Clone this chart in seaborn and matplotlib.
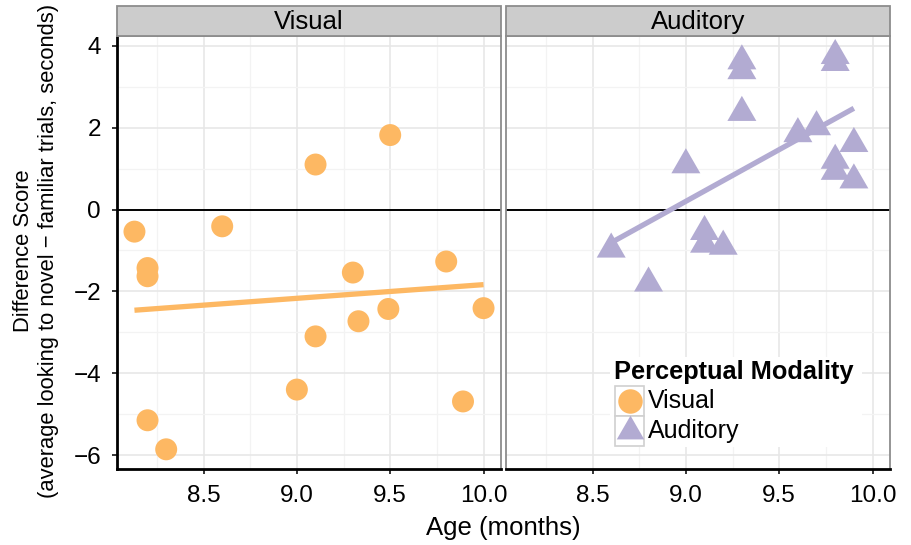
import numpy as np
import pandas as pd
import matplotlib
matplotlib.use("Agg")
import matplotlib.pyplot as plt
import seaborn as sns
from matplotlib.path import Path
from matplotlib.patches import Rectangle

# data (age in months, difference score in seconds)
visual_age = [8.13, 8.60, 8.20, 8.20, 9.10, 9.50, 9.30, 9.80, 9.49, 10.00, 9.33, 9.10, 9.00, 9.89, 8.20, 8.30]
visual_score = [-0.54, -0.41, -1.43, -1.63, 1.10, 1.82, -1.54, -1.27, -2.43, -2.41, -2.73, -3.10, -4.40, -4.69, -5.15, -5.86]
auditory_age = [9.00, 9.30, 9.30, 9.30, 9.80, 9.80, 9.60, 9.70, 9.90, 9.80, 9.80, 9.90, 8.60, 8.80, 9.10, 9.10, 9.20]
auditory_score = [1.09, 2.37, 3.63, 3.39, 3.76, 3.59, 1.85, 2.02, 1.61, 1.20, 0.93, 0.72, -0.97, -1.80, -0.54, -0.85, -0.90]

modalities = ["Visual", "Auditory"]
palette = {"Visual": "#FDB863", "Auditory": "#B2ABD2"}
x_ticks = [8.5, 9.0, 9.5, 10.0]
y_ticks = [-6, -4, -2, 0, 2, 4]

df = pd.concat([
    pd.DataFrame({"age": visual_age, "score": visual_score, "modality": "Visual"}),
    pd.DataFrame({"age": auditory_age, "score": auditory_score, "modality": "Auditory"}),
], ignore_index=True)

sns.set_theme(style="white")
plt.rcParams["font.family"] = ["Liberation Sans", "DejaVu Sans"]
for k in ["text.color", "axes.labelcolor", "xtick.color", "ytick.color"]:
    plt.rcParams[k] = "black"

# R style triangle (pch 17), centred on its centroid
tri = Path([(0, 1.5551), (1.3468, -0.7776), (-1.3468, -0.7776), (0, 1.5551)],
           [Path.MOVETO, Path.LINETO, Path.LINETO, Path.CLOSEPOLY])
markers = {"Visual": "o", "Auditory": tri}
sizes = {"Visual": 250, "Auditory": 580}

fig = plt.figure(figsize=(9.11, 5.45), dpi=100)
W, H = 911, 545
panel_px = {"Visual": (117, 501), "Auditory": (506, 890)}
top_px, bot_px = 36, 469

# ggplot-like expansion of the pooled data range
xr = df["age"].max() - df["age"].min()
yr = df["score"].max() - df["score"].min()
xlim = (df["age"].min() - 0.05 * xr, df["age"].max() + 0.05 * xr)
ylim = (df["score"].min() - 0.05 * yr, df["score"].max() + 0.05 * yr)

axes = {}
for i, mod in enumerate(modalities):
    x0, x1 = panel_px[mod]
    ax = fig.add_axes([x0 / W, 1 - bot_px / H, (x1 - x0) / W, (bot_px - top_px) / H])
    axes[mod] = ax
    sub = df[df["modality"] == mod]

    ax.set_xlim(xlim)
    ax.set_ylim(ylim)
    ax.set_xticks(x_ticks)
    ax.set_xticks([8.25, 8.75, 9.25, 9.75], minor=True)
    ax.set_yticks(y_ticks)
    ax.set_yticks([-5, -3, -1, 1, 3], minor=True)
    ax.grid(True, which="major", color="#E6E6E6", lw=1.1)
    ax.grid(True, which="minor", color="#F3F3F3", lw=0.9)
    ax.set_axisbelow(True)
    ax.axhline(0, color="black", lw=1.4, zorder=1.5)

    sns.regplot(data=sub, x="age", y="score", ax=ax, ci=None, truncate=True,
                color=palette[mod], marker=markers[mod],
                scatter_kws={"s": sizes[mod], "alpha": 1, "linewidths": 0, "edgecolors": "none", "zorder": 3},
                line_kws={"lw": 3.8, "solid_capstyle": "butt", "zorder": 4})

    ax.set_xlabel("")
    ax.set_ylabel("")
    ax.set_xticklabels([f"{t:.1f}" for t in x_ticks], fontsize=17.5)
    ax.tick_params(axis="x", which="major", length=3.5, width=1.1, color="black",
                   pad=8, bottom=True, colors="black")
    ax.tick_params(which="minor", length=0)
    for s in ["top", "right", "left", "bottom"]:
        ax.spines[s].set_color("#8C8C8C")
        ax.spines[s].set_linewidth(1.3)
    ax.spines["bottom"].set_color("black")
    ax.spines["bottom"].set_linewidth(2)

    if i == 0:
        ax.set_yticklabels(["\u22126", "\u22124", "\u22122", "0", "2", "4"], fontsize=17.5)
        ax.tick_params(axis="y", which="major", length=3.5, width=1.1, pad=8, left=True)
        ax.spines["left"].set_color("black")
        ax.spines["left"].set_linewidth(2)
    else:
        ax.tick_params(axis="y", which="both", left=False, labelleft=False)

    # facet strip
    ph = bot_px - top_px
    ax.add_patch(Rectangle((0, 1), 1, 30 / ph, transform=ax.transAxes, facecolor="#CCCCCC",
                           edgecolor="#8C8C8C", lw=1.3, clip_on=False, zorder=5))
    ax.text(0.5, 1 + 14 / ph, mod, transform=ax.transAxes, ha="center", va="center",
            fontsize=18.5, color="black", zorder=6)

fig.text(36 / W, 1 - 251 / H, "Difference Score\n(average looking to novel \u2212 familiar trials, seconds)",
         rotation=90, ha="center", va="center", fontsize=15.8, multialignment="center")
fig.text(503.5 / W, 1 - 528 / H, "Age (months)", ha="center", va="center", fontsize=18.5)

# legend drawn inside the Auditory panel, like ggplot's
ax = axes["Auditory"]
pw, ph = 384, bot_px - top_px
def ax_xy(px, py):
    return (px - 506) / pw, (bot_px - py) / ph

bx0, by0 = ax_xy(610, 447)
bx1, by1 = ax_xy(862, 357)
ax.add_patch(Rectangle((bx0, by0), bx1 - bx0, by1 - by0, transform=ax.transAxes,
                       facecolor="white", edgecolor="none", zorder=2))
tx, ty = ax_xy(614, 372)
ax.text(tx, ty, "Perceptual Modality", transform=ax.transAxes, fontsize=18.3,
        fontweight="bold", ha="left", va="center", zorder=6)
for j, mod in enumerate(modalities):
    kx0, ky0 = ax_xy(615, 416 + 30 * j)
    kx1, ky1 = ax_xy(644, 386 + 30 * j)
    ax.add_patch(Rectangle((kx0, ky0), kx1 - kx0, ky1 - ky0, transform=ax.transAxes,
                           facecolor="white", edgecolor="#D0D0D0", lw=1.2, zorder=5))
    cx, cy = ax_xy(629.5, 401 + 30 * j)
    ax.scatter([cx], [cy], transform=ax.transAxes, marker=markers[mod],
               s=310 if mod == "Visual" else 520, color=palette[mod], linewidths=0,
               zorder=6, clip_on=False)
    lx, ly = ax_xy(648, 401 + 30 * j)
    ax.text(lx, ly, mod, transform=ax.transAxes, fontsize=18, ha="left", va="center", zorder=6)

fig.savefig("out.png", dpi=100, facecolor="white")
